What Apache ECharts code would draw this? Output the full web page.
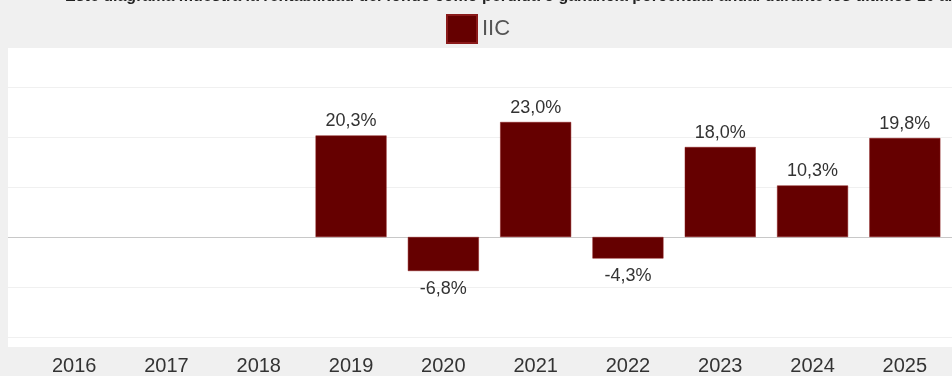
<!DOCTYPE html>
<html>
<head>
<meta charset="utf-8">
<script src="https://cdn.jsdelivr.net/npm/echarts@6/dist/echarts.min.js"></script>
<style>
  html, body { margin: 0; padding: 0; background: #f0f0f0; }
  #chart { width: 952px; height: 376px; }
</style>
</head>
<body>
<div id="chart"></div>
<script>
// datos
const years = ['2016', '2017', '2018', '2019', '2020', '2021', '2022', '2023', '2024', '2025'];
const returns = [null, null, null, 20.3, -6.8, 23.0, -4.3, 18.0, 10.3, 19.8];
const seriesName = 'IIC';
const titleText = 'Este diagrama muestra la rentabilidad del fondo como pérdida o ganancia porcentual anual durante los últimos 10 años';

const fmt = v => v.toFixed(1).replace('.', ',') + '%';
const font = '"Liberation Sans", Arial, sans-serif';

const chart = echarts.init(document.getElementById('chart'));

const barData = returns.map(v => {
  if (v === null) return null;
  return {
    value: v,
    label: v < 0 ? { position: 'bottom', distance: 9 } : { position: 'top', distance: 5 }
  };
});

const option = {
  backgroundColor: '#f0f0f0',
  animation: false,
  graphic: [
    {
      type: 'rect',
      z: -10,
      shape: { x: 8, y: 47, width: 950, height: 300 },
      style: { fill: '#ffffff' }
    },
    {
      type: 'text',
      left: 65,
      top: -11,
      style: {
        text: titleText,
        font: 'bold 16px "Liberation Sans", Arial, sans-serif',
        fill: '#222'
      }
    }
  ],
  legend: {
    left: 441,
    top: 9,
    itemWidth: 30,
    itemHeight: 28,
    icon: 'rect',
    itemGap: 4,
    textStyle: { fontSize: 22, color: '#555', fontFamily: font },
    data: [seriesName]
  },
  grid: [
    { left: 8, top: 47, width: 950, height: 290 },
    { left: 28, top: 47, width: 923, height: 290 }
  ],
  xAxis: [
    { gridIndex: 0, type: 'category', data: years, show: false },
    {
      gridIndex: 1,
      type: 'category',
      data: years,
      position: 'bottom',
      axisLine: { show: false, onZero: false },
      axisTick: { show: false },
      axisLabel: { margin: 19, fontSize: 20, color: '#333', fontFamily: font }
    }
  ],
  yAxis: [
    {
      gridIndex: 0,
      type: 'value',
      min: -20,
      max: 38,
      interval: 10,
      axisLine: { show: false },
      axisTick: { show: false },
      axisLabel: { show: false },
      splitLine: {
        lineStyle: {
          color: ['#f0f0f0', '#f0f0f0', '#c8c8c8', '#f0f0f0', '#f0f0f0', '#f0f0f0', '#f0f0f0'],
          width: 1
        }
      }
    },
    {
      gridIndex: 1,
      type: 'value',
      min: -20,
      max: 38,
      interval: 10,
      show: false,
      splitLine: { show: false }
    }
  ],
  series: [
    {
      name: seriesName,
      type: 'bar',
      xAxisIndex: 1,
      yAxisIndex: 1,
      barWidth: 71,
      data: barData,
      itemStyle: { color: '#650000', borderColor: '#8a1a1a', borderWidth: 0.5 },
      label: {
        show: true,
        fontSize: 18,
        color: '#333',
        fontFamily: font,
        formatter: p => fmt(p.value)
      }
    }
  ]
};

chart.setOption(option);
</script>
</body>
</html>
